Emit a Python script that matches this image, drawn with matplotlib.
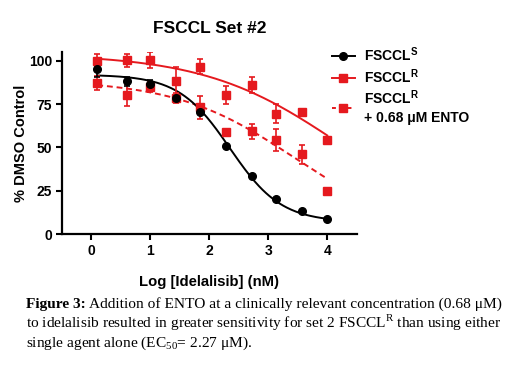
"""Dose-response plot for FSCCL set #2 with idelalisib +/- ENTO."""

from __future__ import annotations

import numpy as np
import matplotlib

matplotlib.use("Agg")
import matplotlib.pyplot as plt
from matplotlib.lines import Line2D

RED = "#e5191e"
BLACK = "#000000"

LOG_DOSE = [0.1, 0.6, 1.0, 1.43, 1.85, 2.28, 2.72, 3.13, 3.57, 4.0]

SENS_MEAN = [95.2, 88.1, 86.6, 78.4, 70.7, 51.0, 33.6, 20.3, 13.6, 8.6]
SENS_ERR = [4.5, 2.4, 2.3, 1.5, 0.8, 0.5, 0.5, 0.8, 0.6, 0.5]

RES_MEAN = [100.0, 100.4, 100.6, 88.5, 96.7, 80.3, 86.0, 69.4, 70.7, 54.4]
RES_ERR = [3.8, 3.8, 4.6, 8.0, 4.5, 5.4, 4.4, 5.4, 1.5, 0.0]

ENTO_MEAN = [87.2, 80.3, 85.0, 78.6, 73.2, 58.9, 59.3, 54.5, 46.1, 24.9]
ENTO_ERR = [4.0, 6.5, 3.0, 3.0, 6.7, 0.0, 4.4, 6.3, 5.4, 0.0]

# fitted 4PL parameters (top, bottom, logEC50, hill)
SENS_FIT = (92.0, 7.0, 2.35, 1.0)
RES_FIT = (104.0, 0.0, 4.22, 0.377)
ENTO_FIT = (89.0, 0.0, 3.424, 0.434)

X_TICKS = [0, 1, 2, 3, 4]
Y_TICKS = [0, 25, 50, 75, 100]

LEGEND_LABELS = [
    r"FSCCL$^{\mathbf{S}}$",
    r"FSCCL$^{\mathbf{R}}$",
    "FSCCL$^{\\mathbf{R}}$\n+ 0.68 \u03bcM ENTO",
]

CAPTION_BOLD = "Figure 3:"
CAPTION_LINES = [
    "Addition of ENTO at a clinically relevant concentration (0.68 \u03bcM)",
    "to idelalisib resulted in greater sensitivity for set 2 FSCCL$^{\\mathrm{R}}$ than using either",
    "single agent alone (EC$_{\\mathrm{50}}$= 2.27 \u03bcM).",
]

plt.rcParams["font.family"] = ["Liberation Sans", "DejaVu Sans"]
plt.rcParams["mathtext.fontset"] = "custom"
plt.rcParams["mathtext.rm"] = "Liberation Serif"
plt.rcParams["mathtext.bf"] = "Liberation Sans:bold"


def four_pl(x, params):
    top, bottom, log_ec50, hill = params
    return bottom + (top - bottom) / (1.0 + 10 ** ((x - log_ec50) * hill))


def draw_series(ax, mean, err, fit, marker, ms, ls):
    color = BLACK if marker == "o" else RED
    xs = np.linspace(LOG_DOSE[0], LOG_DOSE[-1], 200)
    ax.plot(xs, four_pl(xs, fit), color=color, lw=1.4, ls=ls, zorder=2)
    ax.errorbar(LOG_DOSE, mean, yerr=err, fmt=marker, color=color, ms=ms,
                elinewidth=1.2, capsize=2.5, capthick=1.2, zorder=3)


def main() -> int:
    fig = plt.figure(figsize=(5.2, 3.67), dpi=100)
    ax = fig.add_axes([0.119, 0.362, 0.567, 0.496])

    draw_series(ax, RES_MEAN, RES_ERR, RES_FIT, "s", 5.5, "-")
    draw_series(ax, ENTO_MEAN, ENTO_ERR, ENTO_FIT, "s", 5.5, (0, (3, 2)))
    draw_series(ax, SENS_MEAN, SENS_ERR, SENS_FIT, "o", 5.5, "-")

    ax.set_xlim(-0.5, 4.5)
    ax.set_ylim(0, 105)
    ax.set_xticks(X_TICKS)
    ax.set_yticks(Y_TICKS)
    ax.tick_params(labelsize=10, width=1.5, length=4, pad=3)
    for lab in ax.get_xticklabels() + ax.get_yticklabels():
        lab.set_fontweight("bold")
    for side in ("top", "right"):
        ax.spines[side].set_visible(False)
    for side in ("left", "bottom"):
        ax.spines[side].set_linewidth(1.6)

    ax.set_title("FSCCL Set #2", fontsize=12.5, fontweight="bold", pad=14)
    ax.set_xlabel("Log [Idelalisib] (nM)", fontsize=10.7, fontweight="bold", labelpad=12)
    ax.set_ylabel("% DMSO Control", fontsize=10.5, fontweight="bold", labelpad=1)

    handles = [
        Line2D([], [], color=BLACK, marker="o", ms=5.5, lw=1.4),
        Line2D([], [], color=RED, marker="s", ms=5.5, lw=1.4),
        Line2D([], [], color=RED, marker="s", ms=5.5, lw=1.4, ls=(0, (2, 2))),
    ]
    leg = fig.legend(handles, LEGEND_LABELS, loc="upper left",
                     bbox_to_anchor=(0.615, 0.91), frameon=False,
                     handlelength=1.6, handletextpad=0.7, labelspacing=0.22,
                     prop={"weight": "bold", "size": 10})
    leg.get_texts()[2].set_linespacing(1.35)

    # caption below the chart
    cap_size = 11.1
    y0, dy, x0 = 0.161, 0.0534, 0.05
    fig.canvas.draw()
    renderer = fig.canvas.get_renderer()
    bold = fig.text(x0, y0, CAPTION_BOLD, family="Liberation Serif",
                    fontweight="bold", fontsize=cap_size, va="baseline")
    bb = bold.get_window_extent(renderer)
    fig.text((bb.x1 + 3) / fig.bbox.width, y0, CAPTION_LINES[0],
             family="Liberation Serif", fontsize=cap_size, va="baseline")
    for i, line in enumerate(CAPTION_LINES[1:], start=1):
        fig.text(x0, y0 - i * dy, line, family="Liberation Serif",
                 fontsize=cap_size, va="baseline")

    fig.savefig("out.png", dpi=100)
    return 0


if __name__ == "__main__":
    raise SystemExit(main())
